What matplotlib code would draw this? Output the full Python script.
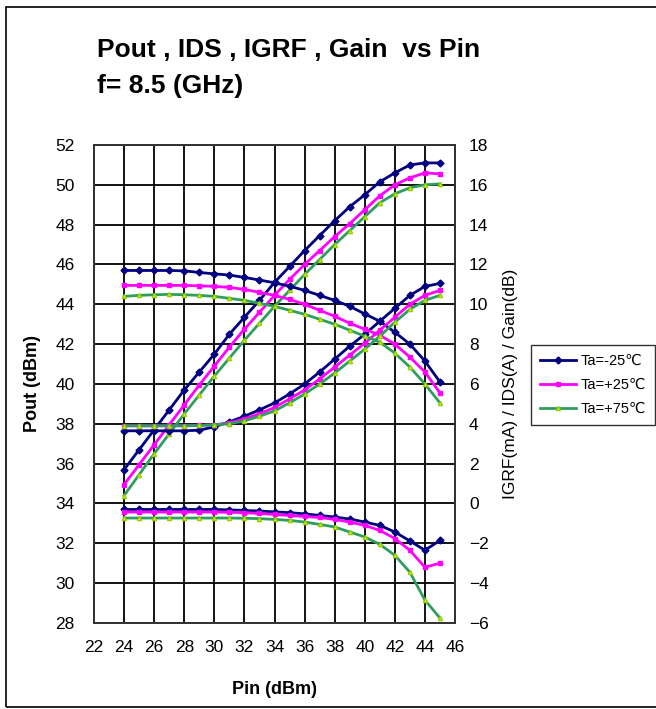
import numpy as np
import matplotlib.pyplot as plt
from matplotlib.patches import Rectangle

plt.rcParams['font.family'] = ['Liberation Sans', 'DejaVu Sans']

# data
pin = [24, 25, 26, 27, 28, 29, 30, 31, 32, 33, 34, 35, 36, 37, 38, 39, 40, 41, 42, 43, 44, 45]

pout_m25 = [35.7, 36.7, 37.7, 38.7, 39.7, 40.6, 41.5, 42.5, 43.35, 44.2, 45.1, 45.9, 46.7, 47.45, 48.2, 48.9, 49.5, 50.15, 50.6, 51.0, 51.1, 51.1]
pout_p25 = [34.95, 35.95, 36.95, 37.95, 38.95, 39.95, 40.9, 41.85, 42.75, 43.6, 44.45, 45.25, 46.0, 46.7, 47.4, 48.05, 48.75, 49.45, 50.0, 50.35, 50.6, 50.55]
pout_p75 = [34.4, 35.45, 36.5, 37.5, 38.5, 39.45, 40.4, 41.3, 42.2, 43.05, 43.9, 44.7, 45.5, 46.25, 47.0, 47.7, 48.4, 49.1, 49.55, 49.85, 50.0, 50.05]

gain_m25 = [11.7, 11.7, 11.7, 11.7, 11.68, 11.6, 11.53, 11.47, 11.35, 11.22, 11.08, 10.91, 10.7, 10.45, 10.2, 9.9, 9.52, 9.15, 8.6, 8.0, 7.15, 6.1]
gain_p25 = [10.95, 10.95, 10.95, 10.95, 10.95, 10.93, 10.9, 10.85, 10.75, 10.6, 10.45, 10.25, 10.0, 9.7, 9.4, 9.05, 8.75, 8.45, 8.0, 7.35, 6.6, 5.55]
gain_p75 = [10.4, 10.45, 10.48, 10.5, 10.48, 10.45, 10.4, 10.3, 10.2, 10.05, 9.9, 9.7, 9.5, 9.25, 9.0, 8.7, 8.4, 8.1, 7.55, 6.85, 6.0, 5.05]

ids_m25 = [3.65, 3.65, 3.65, 3.65, 3.65, 3.68, 3.85, 4.1, 4.38, 4.7, 5.05, 5.5, 6.0, 6.6, 7.25, 7.9, 8.5, 9.15, 9.8, 10.45, 10.9, 11.05]
ids_p25 = [3.9, 3.9, 3.9, 3.9, 3.9, 3.92, 3.95, 4.05, 4.25, 4.5, 4.82, 5.25, 5.7, 6.25, 6.85, 7.45, 8.05, 8.7, 9.35, 10.0, 10.45, 10.7]
ids_p75 = [3.9, 3.9, 3.9, 3.9, 3.9, 3.92, 3.95, 4.0, 4.15, 4.38, 4.65, 5.05, 5.5, 6.0, 6.55, 7.15, 7.75, 8.4, 9.1, 9.75, 10.2, 10.45]

igrf_m25 = [-0.3, -0.3, -0.3, -0.3, -0.3, -0.3, -0.3, -0.32, -0.35, -0.38, -0.42, -0.46, -0.52, -0.6, -0.68, -0.78, -0.93, -1.1, -1.43, -1.88, -2.35, -1.85]
igrf_p25 = [-0.43, -0.43, -0.43, -0.43, -0.43, -0.43, -0.43, -0.44, -0.46, -0.5, -0.55, -0.6, -0.65, -0.7, -0.8, -0.93, -1.1, -1.35, -1.76, -2.35, -3.2, -3.0]
igrf_p75 = [-0.73, -0.73, -0.73, -0.73, -0.73, -0.73, -0.73, -0.73, -0.74, -0.76, -0.8, -0.85, -0.93, -1.05, -1.18, -1.43, -1.68, -2.05, -2.6, -3.45, -4.85, -5.75]

labels = ['Ta=-25\u2103', 'Ta=+25\u2103', 'Ta=+75\u2103']

styles = [
    dict(color='#000080', marker='D', ms=3.5, mfc='#000080', mec='#000080'),
    dict(color='#ff00ff', marker='s', ms=3, mfc='#ff00ff', mec='#ff00ff'),
    dict(color='#2e9e5e', marker='^', ms=3, mfc='#ccff33', mec='#99cc00'),
]

fig = plt.figure(figsize=(6.56, 7.09), dpi=100)
ax = fig.add_axes([0.1433, 0.1213, 0.5503, 0.6742])
ax2 = ax.twinx()

ax.set_xlim(22, 46)
ax.set_ylim(28, 52)
ax2.set_ylim(-6, 18)
ax.set_xticks(np.arange(22, 47, 2))
ax.set_yticks(np.arange(28, 53, 2))
ax2.set_yticks(np.arange(-6, 19, 2))
ax.grid(True, color='black', lw=1.3)
for a in (ax, ax2):
    for s in a.spines.values():
        s.set_color('#333333')
        s.set_linewidth(1.3)
ax.tick_params(axis='y', length=0, labelsize=12.5, pad=14)
ax.tick_params(axis='x', length=0, labelsize=12.5, pad=12)
ax2.tick_params(axis='y', length=0, labelsize=12.5, pad=10)

pouts = [pout_m25, pout_p25, pout_p75]
gains = [gain_m25, gain_p25, gain_p75]
idss = [ids_m25, ids_p25, ids_p75]
igrfs = [igrf_m25, igrf_p25, igrf_p75]

handles = []
for i in range(3):
    h, = ax.plot(pin, pouts[i], lw=2, **styles[i])
    handles.append(h)
    ax2.plot(pin, gains[i], lw=2, **styles[i])
    ax2.plot(pin, idss[i], lw=2, **styles[i])
    ax2.plot(pin, igrfs[i], lw=2, **styles[i])

ax.set_xlabel('Pin (dBm)', fontsize=13, fontweight='bold', labelpad=19)
ax.set_ylabel('Pout (dBm)', fontsize=13, fontweight='bold', labelpad=10)
ax2.set_ylabel('IGRF(mA) / IDS(A) / Gain(dB)', fontsize=12.5, labelpad=10)

fig.text(97 / 656, 1 - 50 / 709, 'Pout , IDS , IGRF , Gain  vs Pin', fontsize=19,
         fontweight='bold', va='center')
fig.text(97 / 656, 1 - 86 / 709, 'f= 8.5 (GHz)', fontsize=19, fontweight='bold', va='center')

leg = fig.legend(handles, labels, loc='upper left', bbox_to_anchor=(531 / 656, 1 - 345 / 709),
                 fontsize=10.5, frameon=True, fancybox=False, edgecolor='black',
                 handlelength=2.5, handletextpad=0.3, borderpad=0.6, labelspacing=0.7,
                 borderaxespad=0)
leg.get_frame().set_linewidth(1.0)

fig.patches.append(Rectangle((6 / 656, 2 / 709), 660 / 656, 700 / 709, transform=fig.transFigure,
                             fill=False, edgecolor='black', lw=1.2))

fig.savefig('out.png', dpi=100)
